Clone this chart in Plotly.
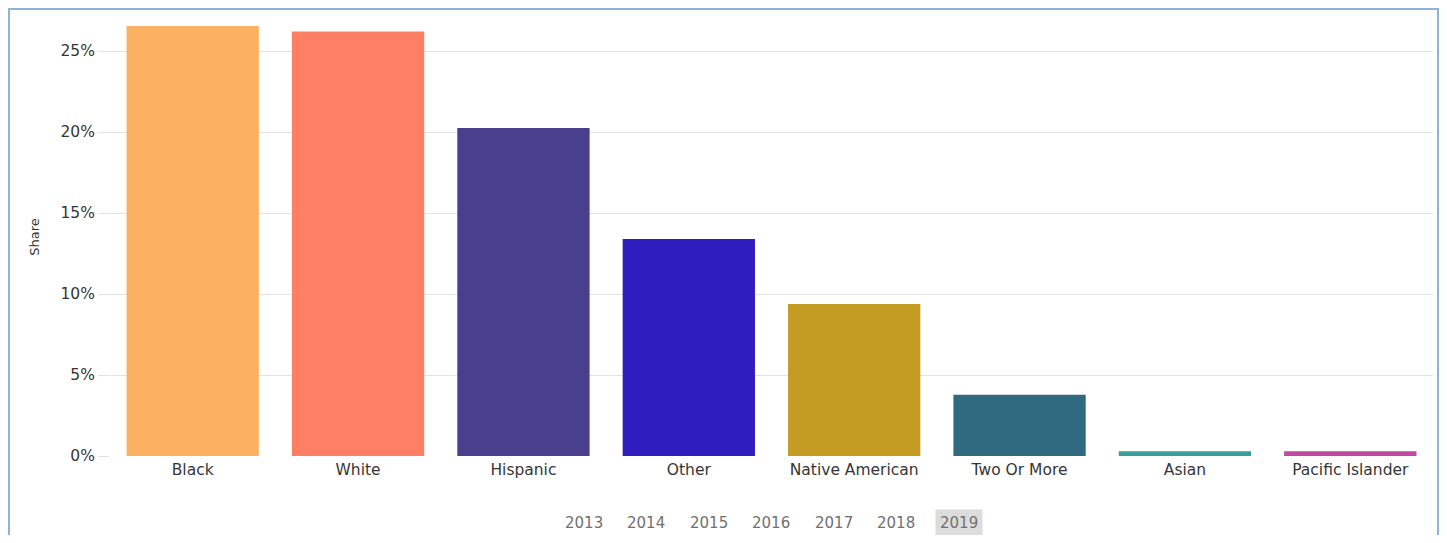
import plotly.graph_objects as go

categories = ["Black", "White", "Hispanic", "Other", "Native American", "Two Or More", "Asian", "Pacific Islander"]
share = [26.55, 26.2, 20.25, 13.4, 9.38, 3.78, 0.3, 0.3]
colors = ["#fcb162", "#fe7f64", "#4a3f8c", "#2f1dbf", "#c39a22", "#2f6a80", "#3a9e9c", "#c048a0"]
years = ["2013", "2014", "2015", "2016", "2017", "2018", "2019"]
selected_year = "2019"
y_ticks = [0, 5, 10, 15, 20, 25]
y_tick_labels = ["0%", "5%", "10%", "15%", "20%", "25%"]

# the page body has an 8px margin; figure coordinates = screen - 8
OFF = 8
W, H = 1431, 527
ml, mr, mt, mb = 102, 6, 10, 79
pw, ph = W - ml - mr, H - mt - mb

def px_x(p):
    return (p - OFF - ml) / pw

def px_y(p):
    return (H - mb - (p - OFF)) / ph

font_family = "DejaVu Sans, Verdana, sans-serif"
text_color = "#363636"

fig = go.Figure(go.Bar(
    x=categories, y=share,
    marker=dict(color=colors, line=dict(width=0)),
    hovertemplate="%{x}: %{y:.1f}%<extra></extra>",
))

annotations = []
x0 = 583.5
step = 62.5
for i, yr in enumerate(years):
    annotations.append(dict(
        text=yr, x=px_x(x0 + i * step), y=px_y(523), xref="paper", yref="paper",
        showarrow=False, xanchor="center", yanchor="middle",
        font=dict(family=font_family, size=15, color="#707070"),
        bgcolor="#dcdcdc" if yr == selected_year else "rgba(0,0,0,0)",
        borderpad=4,
    ))

fig.update_layout(
    width=W, height=H,
    margin=dict(l=ml, r=mr, t=mt, b=mb),
    paper_bgcolor="white", plot_bgcolor="white",
    bargap=0.2,
    showlegend=False,
    font=dict(family=font_family, color=text_color),
    xaxis=dict(
        showgrid=False, zeroline=False, showline=False,
        tickfont=dict(size=15.5, color=text_color),
        ticks="", ticklabelstandoff=2,
    ),
    yaxis=dict(
        range=[0, 27.04],
        tickvals=y_ticks, ticktext=y_tick_labels,
        showgrid=True, gridcolor="#e2e2e2", gridwidth=1,
        zeroline=False, showline=False,
        ticks="outside", ticklen=11, tickcolor="#e2e2e2",
        tickfont=dict(size=15.5, color=text_color),
        title=dict(text="Share", font=dict(size=13, color=text_color), standoff=17),
    ),
    annotations=annotations,
    shapes=[dict(
        type="rect", xref="paper", yref="paper",
        x0=px_x(9), x1=px_x(1438), y0=px_y(560), y1=px_y(9),
        line=dict(color="#8db3d9", width=2), fillcolor="rgba(0,0,0,0)",
        layer="above",
    )],
)

fig.write_html("out.html")
